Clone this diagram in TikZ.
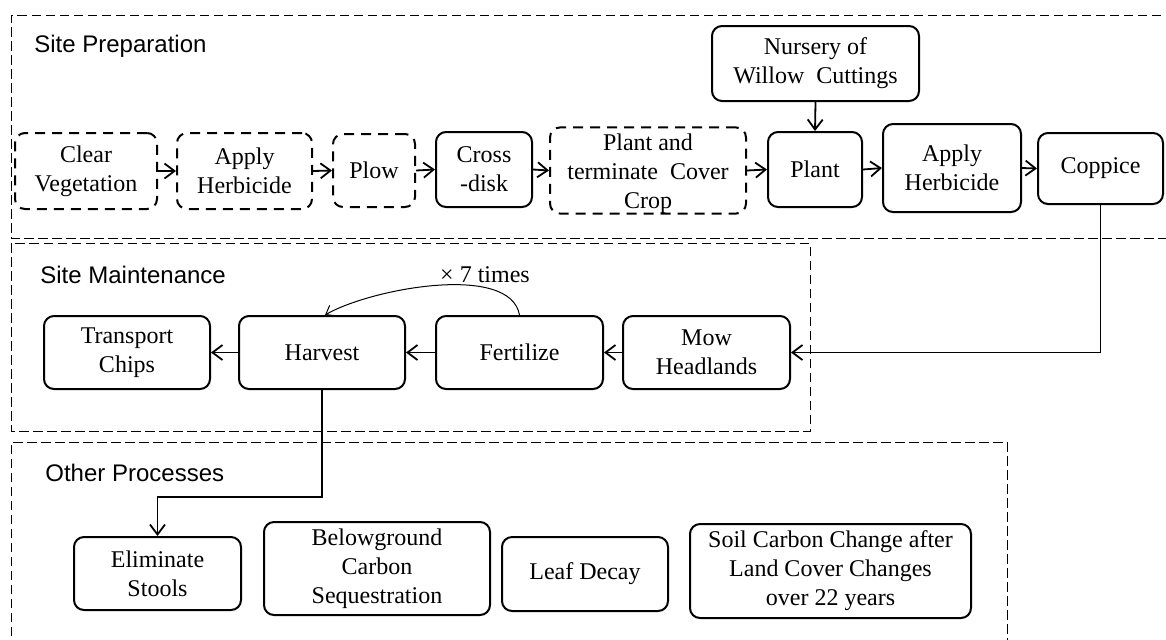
\documentclass[tikz,border=0pt]{standalone}
\usepackage{fontspec}
\setmainfont{Liberation Serif}
\newfontfamily\arialf{Liberation Sans}
\usetikzlibrary{arrows.meta}
\begin{document}
\begin{tikzpicture}[x=0.5pt,y=-0.5pt,
  box/.style={draw, line width=1pt, rounded corners=5pt, align=center, inner sep=0pt,
    font=\fontsize{12}{14.5}\selectfont},
  dbox/.style={box, dash pattern=on 5pt off 3.5pt},
  region/.style={line width=0.5pt, dash pattern=on 4.75pt off 2.25pt},
  lab/.style={font=\arialf\fontsize{12}{14}\selectfont, anchor=west, inner sep=0pt},
  note/.style={font=\fontsize{12}{14}\selectfont, inner sep=0pt},
  arr/.style={line width=0.9pt, -{Straight Barb[length=5pt,width=7.5pt,line width=0.9pt]}},
  thinarr/.style={line width=0.5pt, -{Straight Barb[length=4pt,width=6pt,line width=0.5pt]}},
]
\useasboundingbox (0,0) rectangle (1166,639);

% regions
\draw[region] (1175,15) -- (11,15) -- (11,238) -- (1175,238);
\draw[region] (11,243) rectangle (810,431);
\draw[region] (11,650) -- (11,442) -- (1007,442) -- (1007,650);

\node[lab] (lsp) at (34,46) {Site Preparation};
\node[lab] (lsm) at (40,275) {Site Maintenance};
\node[lab] (lop) at (45,473) {Other Processes};

% site preparation
\node[dbox, minimum width=71pt, minimum height=38pt] (cv) at (86,171) {Clear\\Vegetation};
\node[dbox, minimum width=67.5pt, minimum height=38pt] (ah1) at (244.5,171) {Apply\\Herbicide};
\node[dbox, minimum width=41pt, minimum height=36.5pt] (plow) at (374,170.5) {Plow};
\node[box, minimum width=48pt, minimum height=37.5pt] (cd) at (484,169.5) {Cross\\-disk};
\node[dbox, minimum width=98pt, minimum height=42.5pt] (ptc) at (648,170.5) {\rule{0pt}{11.5pt}Plant and\\terminate\ \ Cover\\Crop};
\node[box, minimum width=47pt, minimum height=37.5pt] (plant) at (815,169.5) {Plant};
\node[box, minimum width=69pt, minimum height=44pt] (ah2) at (952,168) {Apply\\Herbicide};
\node[box, minimum width=62.5pt, minimum height=35.5pt] (cop) at (1100.5,168.5) {Coppice};
\node[box, minimum width=103.5pt, minimum height=37.5pt] (nur) at (815.5,63.5) {Nursery of\\Willow\ \ Cuttings};

\draw[arr] (cv.east) -- (ah1.west);
\draw[arr] (ah1.east) -- (plow.west);
\draw[arr] (plow.east) -- (cd.west);
\draw[arr] (cd.east) -- (ptc.west);
\draw[arr] (ptc.east) -- (plant.west);
\draw[arr] (plant.east) -- (ah2.west);
\draw[arr] (ah2.east) -- (cop.west);
\draw[arr] (nur.south) -- (plant.north);

% site maintenance
\node[box, minimum width=83pt, minimum height=36.5pt] (tc) at (127,352.5) {Transport\\Chips};
\node[box, minimum width=83pt, minimum height=36.5pt] (hv) at (322,352.5) {Harvest};
\node[box, minimum width=83.5pt, minimum height=36.5pt] (fe) at (519.5,352.5) {Fertilize};
\node[box, minimum width=83.5pt, minimum height=36.5pt] (mow) at (706.5,352.5) {Mow\\Headlands};

\draw[arr] (cop.south) |- (mow.east);
\draw[arr] (mow.west) -- (fe.east);
\draw[arr] (fe.west) -- (hv.east);
\draw[arr] (hv.west) -- (tc.east);
\draw[thinarr] (fe.north) to[out=100,in=30,looseness=0.7] ([xshift=1.5pt]hv.north);
\node[note] (times) at (485,275) {× 7 times};

% other processes
\node[box, minimum width=83.5pt, minimum height=36.5pt] (el) at (157.5,573.5) {Eliminate\\Stools};
\node[box, minimum width=113pt, minimum height=46.5pt] (bg) at (377,568.5) {Belowground\\Carbon\\Sequestration};
\node[box, minimum width=83pt, minimum height=37pt] (ld) at (585,574) {Leaf Decay};
\node[box, minimum width=140.5pt, minimum height=47pt] (sc) at (830.5,571) {Soil Carbon Change after\\Land Cover Changes\\over 22 years};

\coordinate (hb) at (322,497);
\draw[arr] (hv.south) -- (hb) -| (el.north);
\end{tikzpicture}
\end{document}
